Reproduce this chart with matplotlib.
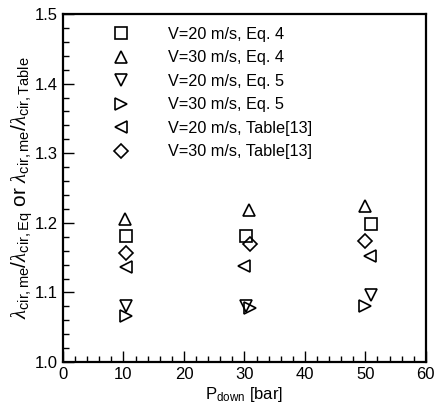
import matplotlib
matplotlib.use("Agg")
import matplotlib.pyplot as plt
from matplotlib.ticker import MultipleLocator

plt.rcParams['font.family'] = ['Liberation Sans', 'DejaVu Sans']
plt.rcParams['mathtext.fontset'] = 'custom'
plt.rcParams['mathtext.rm'] = 'Liberation Sans'
plt.rcParams['mathtext.it'] = 'Liberation Serif:italic'

labels = ["V=20 m/s, Eq. 4", "V=30 m/s, Eq. 4", "V=20 m/s, Eq. 5",
          "V=30 m/s, Eq. 5", "V=20 m/s, Table[13]", "V=30 m/s, Table[13]"]
markers = ["s", "^", "v", ">", "<", "D"]
x_vals = [
    [10.5, 30.2, 51.0],
    [10.3, 30.7, 50.0],
    [10.5, 30.2, 51.0],
    [10.5, 31.0, 50.0],
    [10.4, 30.0, 50.8],
    [10.4, 30.9, 50.0],
]
y_vals = [
    [1.181, 1.181, 1.199],
    [1.206, 1.219, 1.224],
    [1.080, 1.080, 1.096],
    [1.066, 1.077, 1.080],
    [1.136, 1.138, 1.153],
    [1.157, 1.169, 1.174],
]

fig = plt.figure(figsize=(4.39, 4.11), dpi=100)
ax = fig.add_axes([0.1435, 0.119, 0.8265, 0.847])

for lab, m, xs, ys in zip(labels, markers, x_vals, y_vals):
    ms = 7.5 if m == "D" else 9
    if m == "s":
        ms = 8.5
    ax.plot(xs, ys, linestyle='none', marker=m, markersize=ms,
            markerfacecolor='none', markeredgecolor='black',
            markeredgewidth=1.2, label=lab)

ax.set_xlim(0, 60)
ax.set_ylim(1.0, 1.5)
ax.xaxis.set_major_locator(MultipleLocator(10))
ax.xaxis.set_minor_locator(MultipleLocator(2))
ax.yaxis.set_major_locator(MultipleLocator(0.1))
ax.yaxis.set_minor_locator(MultipleLocator(0.02))
ax.yaxis.set_major_formatter(matplotlib.ticker.FormatStrFormatter('%.1f'))
ax.tick_params(which='both', direction='in', top=False, right=False,
               labelsize=12, width=1.0)
ax.tick_params(which='major', length=8)
ax.tick_params(which='minor', length=4)
for s in ax.spines.values():
    s.set_linewidth(1.6)

ax.set_xlabel(r'P$_{\rm down}$ [bar]', fontsize=12, labelpad=2)
ax.set_ylabel(r'$\lambda_{\rm cir,me}/\lambda_{\rm cir,Eq}$ or $\lambda_{\rm cir,me}/\lambda_{\rm cir,Table}$',
              fontsize=15, labelpad=0)

ax.legend(loc='upper left', bbox_to_anchor=(0.08, 1.0), frameon=False,
          fontsize=11.7, handletextpad=1.9, labelspacing=0.52, borderaxespad=0.4)

fig.savefig("out.png", dpi=100)
